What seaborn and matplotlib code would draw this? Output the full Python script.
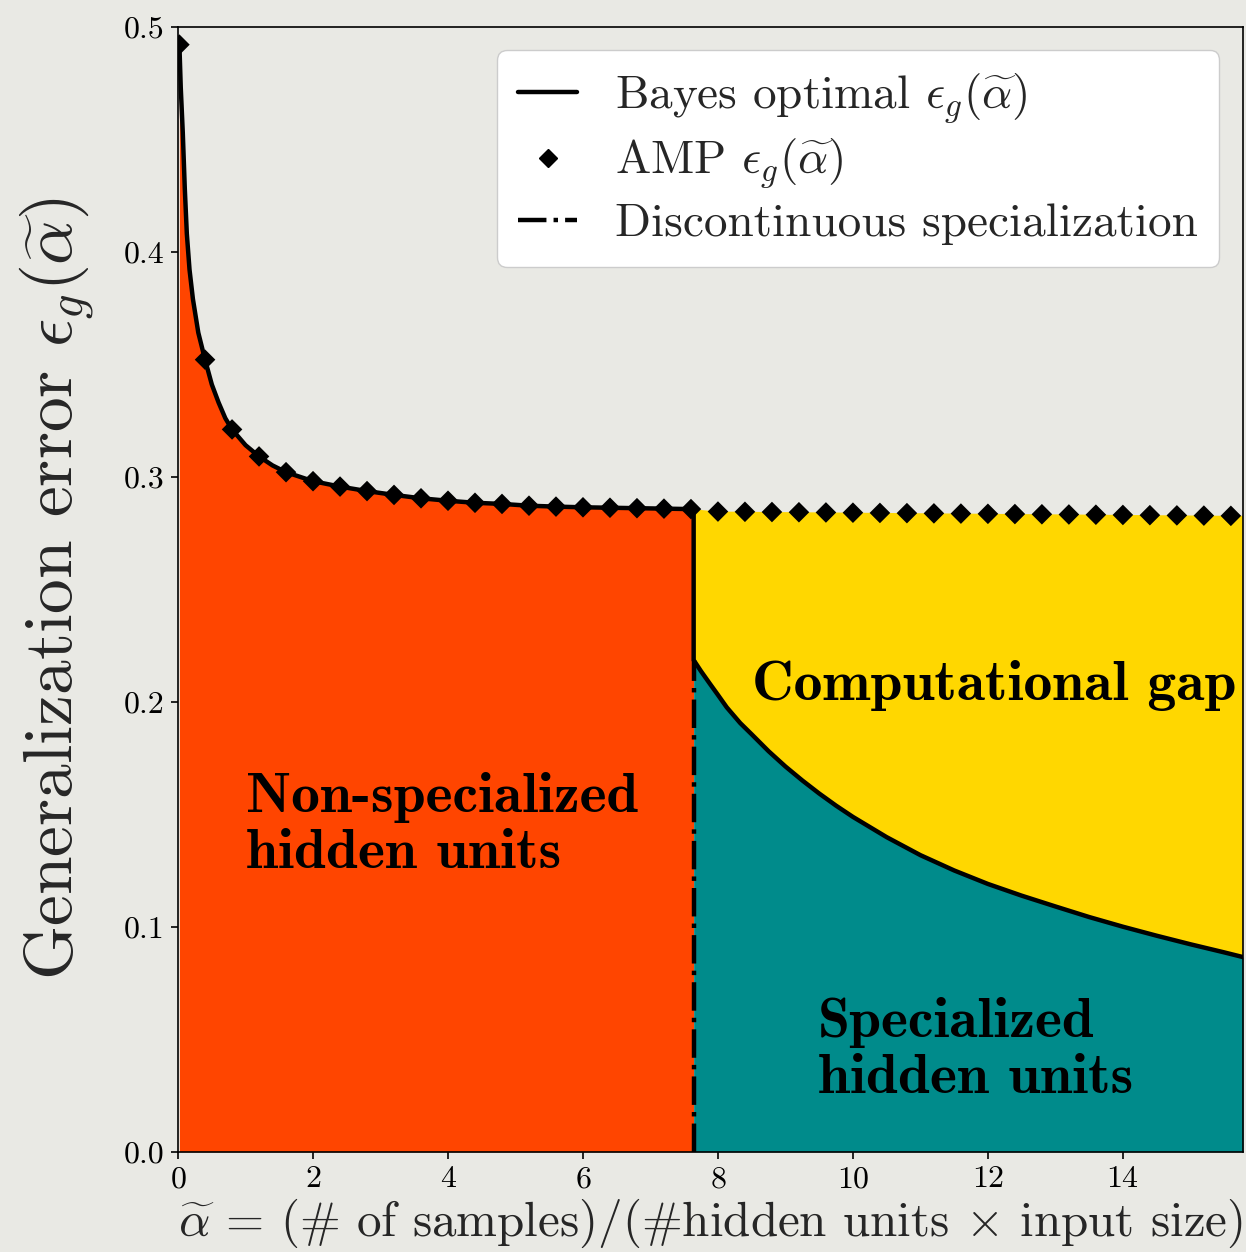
import numpy as np
import matplotlib
matplotlib.use("Agg")
import matplotlib.pyplot as plt
from matplotlib.lines import Line2D
import seaborn as sns

# ---- data -------------------------------------------------------------
# AMP generalization error, one point every 0.4 in alpha
amp_alpha = [0.02, 0.4, 0.8, 1.2, 1.6, 2.0, 2.4, 2.8, 3.2, 3.6, 4.0, 4.4, 4.8,
             5.2, 5.6, 6.0, 6.4, 6.8, 7.2, 7.6, 8.0, 8.4, 8.8, 9.2, 9.6, 10.0,
             10.4, 10.8, 11.2, 11.6, 12.0, 12.4, 12.8, 13.2, 13.6, 14.0, 14.4,
             14.8, 15.2, 15.6]
amp_error = [0.492, 0.352, 0.321, 0.309, 0.302, 0.298, 0.2956, 0.2936, 0.2919,
             0.2904, 0.2893, 0.2884, 0.2879, 0.2871, 0.2867, 0.2864, 0.2862,
             0.2860, 0.2858, 0.2856, 0.2845, 0.2844, 0.2843, 0.2842, 0.2841,
             0.2840, 0.2839, 0.2838, 0.2837, 0.2836, 0.2835, 0.2834, 0.2833,
             0.2832, 0.2831, 0.2830, 0.2829, 0.2828, 0.2827, 0.2826]

# Bayes-optimal error, non-specialized branch (before the transition)
bayes_alpha_low = [0.02, 0.04, 0.07, 0.10, 0.13, 0.17, 0.22, 0.30, 0.4, 0.5,
                   0.6, 0.7, 0.8, 1.0, 1.2, 1.4, 1.6, 2.0, 2.4, 2.8, 3.2, 3.6,
                   4.0, 4.4, 4.8, 5.2, 5.6, 6.0, 6.4, 6.8, 7.2, 7.6, 7.64]
bayes_error_low = [0.492, 0.473, 0.453, 0.428, 0.408, 0.392, 0.379, 0.364,
                   0.352, 0.341, 0.333, 0.326, 0.321, 0.314, 0.309, 0.305,
                   0.302, 0.298, 0.2956, 0.2936, 0.2919, 0.2904, 0.2893,
                   0.2884, 0.2879, 0.2871, 0.2867, 0.2864, 0.2862, 0.2860,
                   0.2858, 0.2856, 0.2855]

# Bayes-optimal error, specialized branch (after the transition)
bayes_alpha_high = [7.64, 7.75, 7.88, 8.0, 8.13, 8.33, 8.5, 8.75, 9.0, 9.25,
                    9.5, 9.75, 10.0, 10.5, 11.0, 11.5, 12.0, 12.5, 13.0, 13.5,
                    14.0, 14.5, 15.0, 15.5, 15.78]
bayes_error_high = [0.2185, 0.2135, 0.2080, 0.2030, 0.1975, 0.1905, 0.1855,
                    0.1780, 0.1712, 0.1650, 0.1592, 0.1538, 0.1488, 0.1398,
                    0.1318, 0.1250, 0.1190, 0.1138, 0.1090, 0.1043, 0.1000,
                    0.0960, 0.0922, 0.0886, 0.0865]

alpha_transition = 7.64
alpha_max = 15.78

# ---- style ------------------------------------------------------------
BG = "#e9e9e4"
sns.set_style("ticks")
plt.rcParams.update({
    "font.family": ["cmr10"],
    "mathtext.fontset": "cm",
    "axes.formatter.use_mathtext": True,
    "axes.unicode_minus": False,
    "axes.edgecolor": "black",
    "axes.linewidth": 1.2,
    "xtick.color": "black",
    "ytick.color": "black",
    "xtick.major.size": 5,
    "ytick.major.size": 5,
    "xtick.major.width": 1.2,
    "ytick.major.width": 1.2,
})

fig = plt.figure(figsize=(12.46, 12.52), dpi=100, facecolor=BG)
ax = fig.add_axes([0.1429, 0.0801, 0.8547, 0.8986])
ax.set_facecolor(BG)

# ---- filled regions ---------------------------------------------------
ax.fill_between(bayes_alpha_low, 0, bayes_error_low, color="#ff4500", lw=0,
                zorder=1)
ax.fill_between(bayes_alpha_high, 0, bayes_error_high, color="#008b8b", lw=0,
                zorder=1)

amp_a = np.array(amp_alpha)
amp_e = np.array(amp_error)
hi = amp_a > alpha_transition
gap_x = np.concatenate([[alpha_transition], amp_a[hi], [alpha_max],
                        np.array(bayes_alpha_high)[::-1]])
gap_y = np.concatenate([[bayes_error_low[-1]], amp_e[hi], [amp_e[-1]],
                        np.array(bayes_error_high)[::-1]])
ax.fill(gap_x, gap_y, color="#ffd700", lw=0, zorder=1)

# ---- curves -----------------------------------------------------------
bayes_x = bayes_alpha_low + bayes_alpha_high
bayes_y = bayes_error_low + bayes_error_high
sns.lineplot(x=bayes_x, y=bayes_y, sort=False, estimator=None, color="black",
             lw=3.2, ax=ax, zorder=3, label=None)
sns.lineplot(x=[alpha_transition, alpha_transition], y=[0, bayes_error_high[0]],
             sort=False, estimator=None, color="black", lw=3.2,
             linestyle="-.", ax=ax, zorder=3, label=None)
sns.scatterplot(x=amp_alpha, y=amp_error, marker="D", s=110, color="black",
                edgecolor="none", ax=ax, zorder=4, label=None)

# ---- region labels ----------------------------------------------------
bold = dict(family="cmb10", fontsize=41.5, color="black", zorder=5)
ax.text(1.0, 0.145, "Non-specialized\nhidden units", ha="left", va="center",
        linespacing=1.15, **bold)
ax.text(8.5, 0.207, "Computational gap", ha="left", va="center", **bold)
ax.text(9.48, 0.045, "Specialized\nhidden units", ha="left", va="center",
        linespacing=1.15, **bold)

# ---- axes -------------------------------------------------------------
ax.set_xlim(0, alpha_max)
ax.set_ylim(0, 0.5)
ax.set_xticks([0, 2, 4, 6, 8, 10, 12, 14])
ax.set_yticks([0.0, 0.1, 0.2, 0.3, 0.4, 0.5])
ax.set_yticklabels(["0.0", "0.1", "0.2", "0.3", "0.4", "0.5"])
ax.tick_params(labelsize=23, pad=5)
for s in ax.spines.values():
    s.set_visible(True)
    s.set_zorder(6)

ax.set_xlabel(r"$\widetilde{\alpha}$ = (# of samples)/(#hidden units "
              r"$\times$ input size)", fontsize=35.3, labelpad=3)
ax.set_ylabel(r"Generalization error $\epsilon_g(\widetilde{\alpha})$",
              fontsize=50, labelpad=18)

# ---- legend -----------------------------------------------------------
handles = [
    Line2D([], [], color="black", lw=3.2),
    Line2D([], [], color="black", marker="D", ls="none", markersize=9),
    Line2D([], [], color="black", lw=3.2, ls="-."),
]
labels = [r"Bayes optimal $\epsilon_g(\widetilde{\alpha})$",
          r"AMP $\epsilon_g(\widetilde{\alpha})$",
          "Discontinuous specialization"]
leg = ax.legend(handles, labels, loc="upper right", fontsize=34,
                handlelength=1.25, handletextpad=0.8, labelspacing=0.25,
                borderpad=0.45, framealpha=1.0, fancybox=True,
                edgecolor="#cccccc", facecolor="white")
leg.set_zorder(7)

fig.savefig("out.png", dpi=100, facecolor=BG)
